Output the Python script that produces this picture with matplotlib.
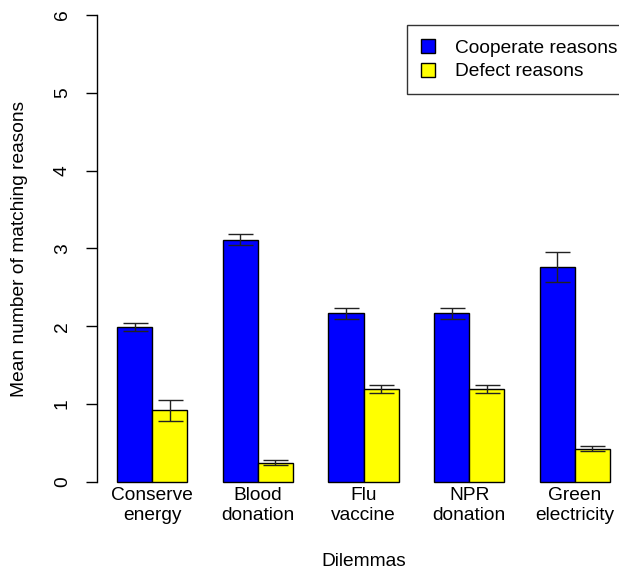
import matplotlib
matplotlib.use("Agg")
import matplotlib.pyplot as plt
import numpy as np

plt.rcParams['font.family'] = ['Liberation Sans', 'DejaVu Sans']

# data
dilemmas = ["Conserve\nenergy", "Blood\ndonation", "Flu\nvaccine", "NPR\ndonation", "Green\nelectricity"]
coop_mean = [1.99, 3.11, 2.17, 2.17, 2.76]
coop_err = [0.055, 0.07, 0.07, 0.07, 0.19]
defect_mean = [0.92, 0.25, 1.19, 1.19, 0.43]
defect_err = [0.14, 0.035, 0.05, 0.05, 0.03]

FS = 13.8
W, H = 619, 570
fig = plt.figure(figsize=(W / 100, H / 100), dpi=100)

# plot region like R barplot (xlim extended 4%, part of it off the right edge)
x0, x1 = 0.44, 15.56
left_px, right_px = 97.3, 629.7
top_px, bot_px = -3.7, 500.7
ax = fig.add_axes([left_px / W, (H - bot_px) / H,
                   (right_px - left_px) / W, (bot_px - top_px) / H])

# R style positions: space=c(0,1) beside=TRUE
grp = np.arange(len(dilemmas)) * 3
xc = grp + 1.5
xd = grp + 2.5

ax.bar(xc, coop_mean, width=1.0, color="#0000FF", edgecolor="black", linewidth=1)
ax.bar(xd, defect_mean, width=1.0, color="#FFFF00", edgecolor="black", linewidth=1)
ax.errorbar(xc, coop_mean, yerr=coop_err, fmt="none", ecolor="#222222",
            elinewidth=1, capsize=9, capthick=1)
ax.errorbar(xd, defect_mean, yerr=defect_err, fmt="none", ecolor="#222222",
            elinewidth=1, capsize=9, capthick=1)

ax.set_xlim(x0, x1)
ax.set_ylim(-0.24, 6.24)

for s in ["top", "right", "bottom"]:
    ax.spines[s].set_visible(False)
ax.spines["left"].set_bounds(0, 6)
ax.spines["left"].set_linewidth(1)

ax.set_yticks(range(0, 7))
ax.set_yticklabels([str(v) for v in range(0, 7)], rotation=90, va="center", fontsize=FS)
ax.tick_params(axis="y", length=8, width=1, pad=11)

ax.set_xticks(grp + 2)
ax.set_xticklabels(dilemmas, fontsize=FS, linespacing=1.25)
ax.tick_params(axis="x", length=0, pad=-10)

# axis titles placed in figure pixels
fig.text(19.5 / W, 1 - (top_px + bot_px) / 2 / H, "Mean number of matching reasons",
         rotation=90, ha="center", va="center", fontsize=FS)
fig.text((left_px + right_px) / 2 / W, 1 - 561 / H, "Dilemmas",
         ha="center", va="center", fontsize=FS)

leg = ax.legend(["Cooperate reasons", "Defect reasons"], loc="upper left",
                bbox_to_anchor=((407 - left_px) / (right_px - left_px),
                                1 - (25.3 - top_px) / (bot_px - top_px)),
                fontsize=FS, frameon=True, fancybox=False, edgecolor="black",
                borderpad=0.72, handlelength=0.75, handleheight=0.75,
                handletextpad=1.05, labelspacing=0.3, borderaxespad=0)
leg.get_frame().set_linewidth(1)

fig.savefig("out.png", dpi=100)
